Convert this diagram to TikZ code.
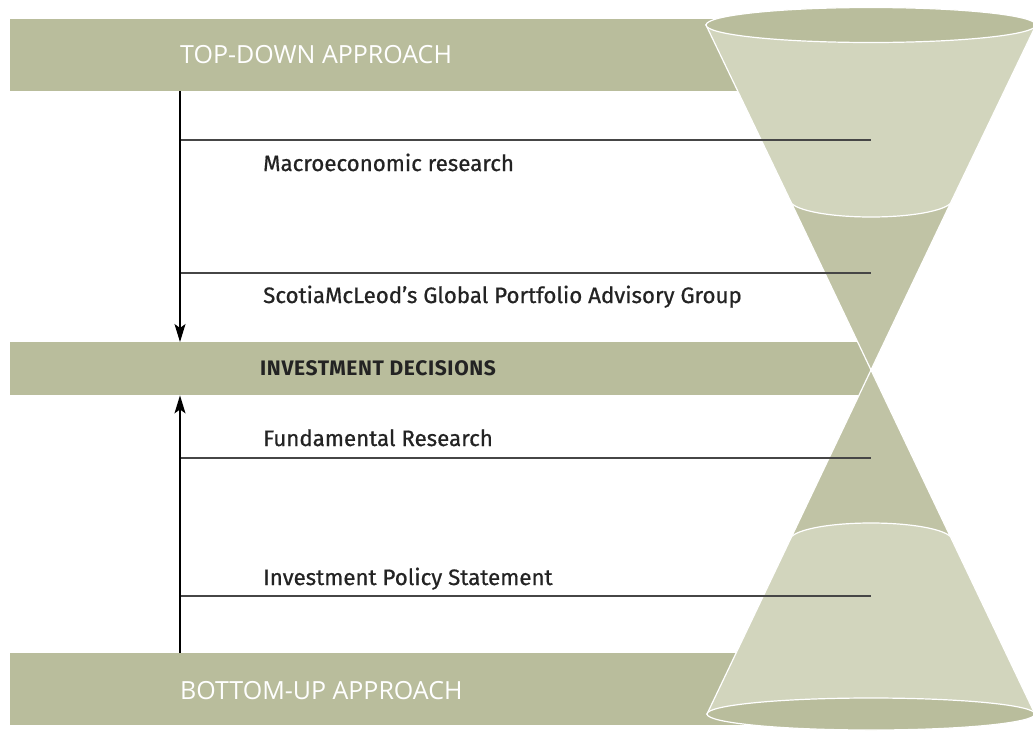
\documentclass[tikz,border=0pt]{standalone}
\usepackage{fontspec}
\setmainfont{Fira Sans}
\newfontfamily\stagefont{Fira Sans}[RawFeature={embolden=0.7}]
\newfontfamily\decisionfont{Fira Sans}[LetterSpace=3]
\newfontfamily\bandfont{Open Sans}
\usetikzlibrary{arrows.meta}
\definecolor{bandolive}{RGB}{185,189,156}
\definecolor{conelight}{RGB}{210,213,189}
\definecolor{conedark}{RGB}{192,195,165}
\definecolor{ruleink}{RGB}{70,70,70}
\definecolor{textink}{RGB}{35,35,35}
\tikzset{
  bandbox/.style={rectangle, fill=bandolive, anchor=north west, inner sep=0,
    minimum height=72pt},
  bandtitle/.style={anchor=base west, inner sep=0, text=white,
    font=\bandfont\fontsize{25}{29}\selectfont},
  stagetext/.style={anchor=base west, inner sep=0, text=textink,
    font=\stagefont\fontsize{22.3}{26}\selectfont},
  decisiontext/.style={stagetext, font=\decisionfont\bfseries\fontsize{21}{25}\selectfont},
  flowarrow/.style={-{Stealth[length=18pt, width=11pt, inset=4pt]},
    line width=1.3pt, draw=black},
  stageline/.style={line width=1.6pt, draw=ruleink},
  conepart/.style={draw=white, line width=1.2pt},
}

\begin{document}
\begin{tikzpicture}[x=1pt, y=-1pt]
  \clip (0,0) rectangle (1033,731);
  % the three bands
  \node[bandbox, minimum width=800pt] (topband) at (10,19) {};
  \node[bandbox, minimum width=862pt, minimum height=53pt] (midband) at (10,342) {};
  \node[bandbox, minimum width=800pt] (botband) at (10,653) {};
  \coordinate (apex) at (871,370);

  % hourglass, upper half
  \path[conepart, fill=conedark] (790,200) -- (apex) -- (952,200) -- cycle;
  \path[conepart, fill=conelight] (706,25) -- (790,200)
    arc[start angle=180, end angle=0, x radius=81, y radius=17] -- (1036,25) -- cycle;
  \path[conepart, fill=bandolive] (871,25) ellipse[x radius=165, y radius=17.5];
  % hourglass, lower half
  \path[conepart, fill=conedark] (apex) -- (790,540) -- (952,540) -- cycle;
  \path[conepart, fill=conelight] (790,540)
    arc[start angle=180, end angle=360, x radius=81, y radius=17]
    -- (1035,714) -- (707,714) -- cycle;
  \path[conepart, fill=bandolive] (871,714) ellipse[x radius=164, y radius=16];

  \node[bandtitle] (toptitle) at (180,63) {TOP-DOWN APPROACH};
  \node[bandtitle] (bottitle) at (180,699) {BOTTOM-UP APPROACH};
  \node[decisiontext] (decision) at (260,375) {INVESTMENT DECISIONS};
  \node[stagetext] (macro) at (263,171) {Macroeconomic research};
  \node[stagetext] (gpag) at (263,303) {ScotiaMcLeod’s Global Portfolio Advisory Group};
  \node[stagetext] (fund) at (263,446) {Fundamental Research};
  \node[stagetext] (ips) at (263,585) {Investment Policy Statement};

  % rules running out to the hourglass
  \foreach \y in {140,273,458,596}
    \draw[stageline] (toptitle.west |- 0,\y) -- (apex |- 0,\y);

  \draw[flowarrow] (toptitle.west |- topband.south) -- (toptitle.west |- midband.north);
  \draw[flowarrow] (toptitle.west |- botband.north) -- (toptitle.west |- midband.south);
\end{tikzpicture}
\end{document}
